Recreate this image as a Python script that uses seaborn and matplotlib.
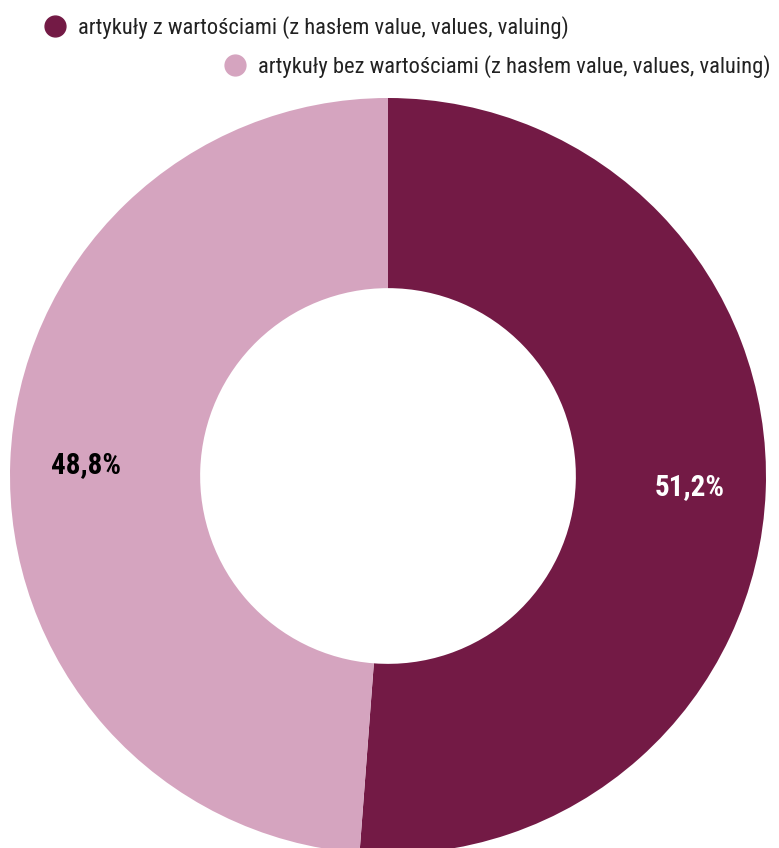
import matplotlib
matplotlib.use("Agg")
import matplotlib.pyplot as plt
from matplotlib.lines import Line2D
from matplotlib import font_manager
import seaborn as sns

categories = [
    "artykuły z wartościami (z hasłem value, values, valuing)",
    "artykuły bez wartościami (z hasłem value, values, valuing)",
]
shares = [51.2, 48.8]
share_labels = ["51,2%", "48,8%"]
colors = ["#731a45", "#d5a4bf"]
label_colors = ["white", "black"]

sns.set_theme(style="white")
names = {f.name for f in font_manager.fontManager.ttflist}
family = [n for n in ["Liberation Sans Narrow", "Roboto Condensed", "Liberation Sans", "DejaVu Sans"] if n in names]
plt.rcParams["font.family"] = family

W, H = 779, 848
fig = plt.figure(figsize=(W / 100, H / 100), dpi=100)
ax = fig.add_axes([0, 0, 1, 1])

cx, cy, R = 388, H - 476, 378
wedges, _, autotexts = ax.pie(
    shares,
    colors=colors,
    startangle=90,
    counterclock=False,
    center=(cx, cy),
    radius=R,
    wedgeprops=dict(width=R * 0.503, linewidth=0),
    autopct="%1.1f%%",
    pctdistance=0.8,
    frame=True,
)
ax.set_xlim(0, W)
ax.set_ylim(0, H)
ax.set_aspect("equal")
ax.axis("off")

for t, lab, c in zip(autotexts, share_labels, label_colors):
    t.set_text(lab)
    t.set_color(c)
    t.set_fontsize(21)
    t.set_fontweight("bold")

legend_pos = [(0.056, 0.967), (0.287, 0.922)]
for cat, col, pos in zip(categories, colors, legend_pos):
    h = Line2D([], [], marker="o", linestyle="none", markersize=15,
               markerfacecolor=col, markeredgecolor=col)
    fig.legend([h], [cat], loc="center left", bbox_to_anchor=pos,
               frameon=False, fontsize=16.2, handletextpad=0.55,
               borderaxespad=0, borderpad=0, handlelength=1.0,
               labelcolor="#222222")

fig.savefig("out.png", dpi=100)
